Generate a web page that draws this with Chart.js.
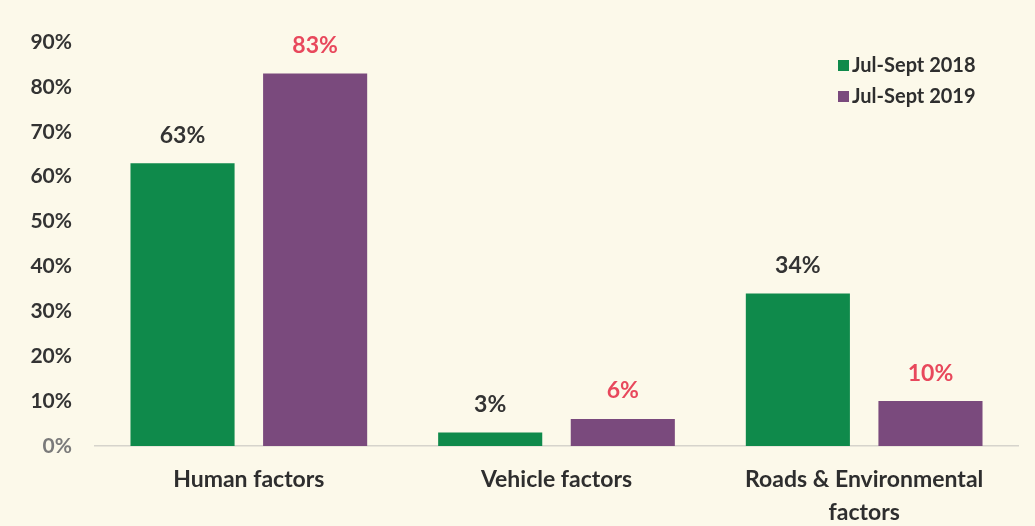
<!DOCTYPE html>
<html><head><meta charset="utf-8">
<script src="https://cdn.jsdelivr.net/npm/chart.js@4/dist/chart.umd.min.js"></script>
<style>html,body{margin:0;padding:0;background:#fcf9ea;}#wrap{width:1035px;height:526px;}</style>
</head><body><div id="wrap"><canvas id="c" width="1035" height="526"></canvas></div>
<script>
const categories = ["Human factors", "Vehicle factors", ["Roads & Environmental", "factors"]];
const seriesNames = ["Jul-Sept 2018", "Jul-Sept 2019"];
const values2018 = [63, 3, 34];
const values2019 = [83, 6, 10];
const tickValues = [0, 10, 20, 30, 40, 50, 60, 70, 80, 90];

const FONT = "Lato, 'Open Sans', sans-serif";
const colors = ["#0f8a4b", "#7a4a7d"];
const labelColors = ["#333333", "#e8485c"];

const bgPlugin = {
  id: 'bg',
  beforeDraw(chart) {
    const ctx = chart.ctx;
    ctx.save();
    ctx.fillStyle = '#fcf9ea';
    ctx.fillRect(0, 0, chart.width, chart.height);
    ctx.restore();
  }
};

const valueLabels = {
  id: 'valueLabels',
  afterDatasetsDraw(chart) {
    const ctx = chart.ctx;
    ctx.save();
    ctx.font = "bold 23px " + FONT;
    ctx.textAlign = 'center';
    ctx.textBaseline = 'middle';
    chart.data.datasets.forEach((ds, i) => {
      const meta = chart.getDatasetMeta(i);
      ctx.fillStyle = labelColors[i];
      meta.data.forEach((bar, j) => {
        ctx.fillText(ds.data[j] + '%', bar.x, bar.y - 28);
      });
    });
    ctx.restore();
  }
};

const legendPlugin = {
  id: 'customLegend',
  afterDraw(chart) {
    const ctx = chart.ctx;
    ctx.save();
    ctx.font = "bold 20px " + FONT;
    ctx.textAlign = 'left';
    ctx.textBaseline = 'middle';
    chart.data.datasets.forEach((ds, i) => {
      const y = 66 + i * 31;
      ctx.fillStyle = colors[i];
      ctx.fillRect(838, y - 6, 11, 11);
      ctx.fillStyle = '#2e2e2e';
      ctx.fillText(ds.label, 852, y);
    });
    ctx.restore();
  }
};

new Chart(document.getElementById('c'), {
  type: 'bar',
  data: {
    labels: categories,
    datasets: [
      { label: seriesNames[0], data: values2018, backgroundColor: colors[0] },
      { label: seriesNames[1], data: values2019, backgroundColor: colors[1] }
    ]
  },
  options: {
    responsive: false,
    animation: false,
    devicePixelRatio: 1,
    layout: { padding: { top: 42, right: 17, left: 0, bottom: 0 } },
    plugins: { legend: { display: false }, tooltip: { enabled: false } },
    datasets: { bar: { categoryPercentage: 0.862, barPercentage: 0.785 } },
    scales: {
      x: {
        grid: { display: false, drawTicks: false },
        border: { display: true, color: '#d6d4cc', width: 1.5 },
        ticks: {
          color: '#2e2e2e',
          font: { family: FONT, size: 23, weight: 'bold', lineHeight: 1.45 },
          padding: 17,
          maxRotation: 0,
          autoSkip: false
        },
        afterFit(scale) { scale.height = 80; }
      },
      y: {
        min: 0, max: 90,
        grid: { display: false, drawTicks: false },
        border: { display: false },
        afterBuildTicks(scale) { scale.ticks = tickValues.map(v => ({ value: v })); },
        ticks: {
          color: (c) => c.tick.value === 0 ? '#7a7a7a' : '#333333',
          font: { family: FONT, size: 21, weight: 'bold' },
          padding: 23,
          callback: (v) => v + '%'
        },
        afterFit(scale) { scale.width = 95; }
      }
    }
  },
  plugins: [bgPlugin, valueLabels, legendPlugin]
});
</script>
</body></html>
